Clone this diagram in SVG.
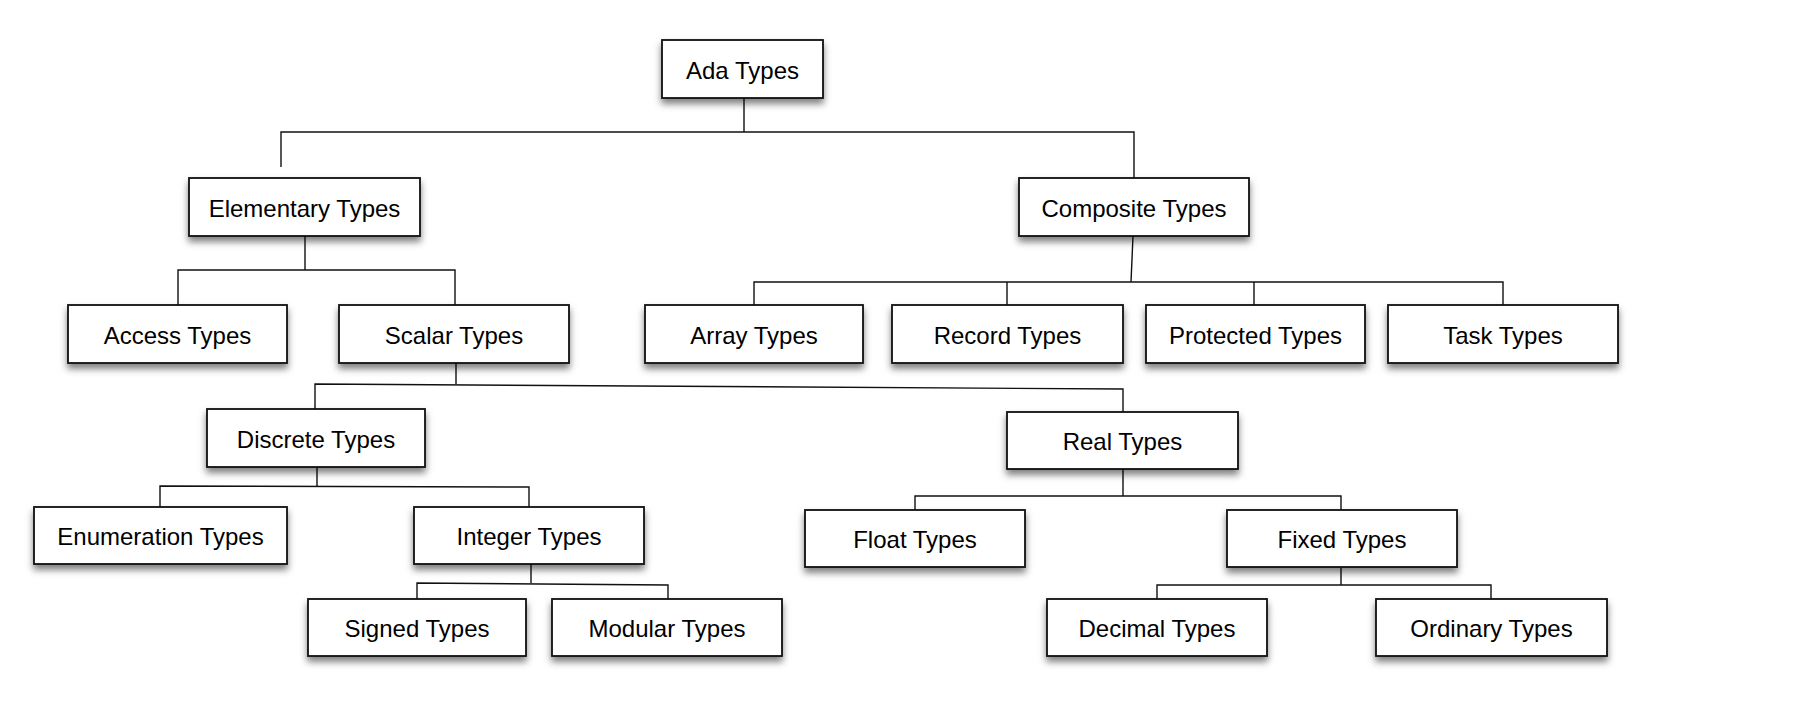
<svg xmlns="http://www.w3.org/2000/svg" width="1804" height="720" viewBox="0 0 1804 720">
<style>
.box{fill:#fff;stroke:#111;stroke-width:1.8;filter:url(#sh)}
.lbl{font-family:"Liberation Sans",Arial,sans-serif;font-size:24px;fill:#000;text-anchor:middle}
.con{fill:none;stroke:#111;stroke-width:1.4}
</style>
<defs>
<filter id="sh" x="-10%" y="-20%" width="120%" height="160%">
<feDropShadow dx="0" dy="5" stdDeviation="3.5" flood-color="#000" flood-opacity="0.5"/>
</filter>
</defs>
<rect width="1804" height="720" fill="#fff"/>
<g id="connectors" class="con">
<path d="M744 98 L744 132 M281 167 L281 132 L1134 132 L1134 178"/>
<path d="M305 236 L305 270 M178 305 L178 270 L455 270 L455 305"/>
<path d="M1133 236 L1131 282 M754 305 L754 282 L1503 282 L1503 305 M1007 282 L1007 305 M1254 282 L1254 305"/>
<path d="M456 363 L456 384 M315 409 L315 384 L1123 389 L1123 412"/>
<path d="M317 467 L317 486 M160 507 L160 486 L529 487 L529 507"/>
<path d="M531 564 L531 583 M417 599 L417 583 L668 585 L668 599"/>
<path d="M1123 469 L1123 496 M915 510 L915 496 L1341 496 L1341 510"/>
<path d="M1341 567 L1341 585 M1157 599 L1157 585 L1491 585 L1491 599"/>
</g>
<g id="ada"><rect class="box" x="662" y="40" width="161" height="58"/><text class="lbl" x="742.5" y="78.5">Ada Types</text></g>
<g id="elementary"><rect class="box" x="189" y="178" width="231" height="58"/><text class="lbl" x="304.5" y="216.5">Elementary Types</text></g>
<g id="composite"><rect class="box" x="1019" y="178" width="230" height="58"/><text class="lbl" x="1134" y="216.5">Composite Types</text></g>
<g id="access"><rect class="box" x="68" y="305" width="219" height="58"/><text class="lbl" x="177.5" y="343.5">Access Types</text></g>
<g id="scalar"><rect class="box" x="339" y="305" width="230" height="58"/><text class="lbl" x="454" y="343.5">Scalar Types</text></g>
<g id="array"><rect class="box" x="645" y="305" width="218" height="58"/><text class="lbl" x="754" y="343.5">Array Types</text></g>
<g id="record"><rect class="box" x="892" y="305" width="231" height="58"/><text class="lbl" x="1007.5" y="343.5">Record Types</text></g>
<g id="protected"><rect class="box" x="1146" y="305" width="219" height="58"/><text class="lbl" x="1255.5" y="343.5">Protected Types</text></g>
<g id="task"><rect class="box" x="1388" y="305" width="230" height="58"/><text class="lbl" x="1503" y="343.5">Task Types</text></g>
<g id="discrete"><rect class="box" x="207" y="409" width="218" height="58"/><text class="lbl" x="316" y="447.5">Discrete Types</text></g>
<g id="real"><rect class="box" x="1007" y="412" width="231" height="57"/><text class="lbl" x="1122.5" y="450">Real Types</text></g>
<g id="enumeration"><rect class="box" x="34" y="507" width="253" height="57"/><text class="lbl" x="160.5" y="545">Enumeration Types</text></g>
<g id="integer"><rect class="box" x="414" y="507" width="230" height="57"/><text class="lbl" x="529" y="545">Integer Types</text></g>
<g id="float"><rect class="box" x="805" y="510" width="220" height="57"/><text class="lbl" x="915" y="548">Float Types</text></g>
<g id="fixed"><rect class="box" x="1227" y="510" width="230" height="57"/><text class="lbl" x="1342" y="548">Fixed Types</text></g>
<g id="signed"><rect class="box" x="308" y="599" width="218" height="57"/><text class="lbl" x="417" y="637">Signed Types</text></g>
<g id="modular"><rect class="box" x="552" y="599" width="230" height="57"/><text class="lbl" x="667" y="637">Modular Types</text></g>
<g id="decimal"><rect class="box" x="1047" y="599" width="220" height="57"/><text class="lbl" x="1157" y="637">Decimal Types</text></g>
<g id="ordinary"><rect class="box" x="1376" y="599" width="231" height="57"/><text class="lbl" x="1491.5" y="637">Ordinary Types</text></g>
</svg>
